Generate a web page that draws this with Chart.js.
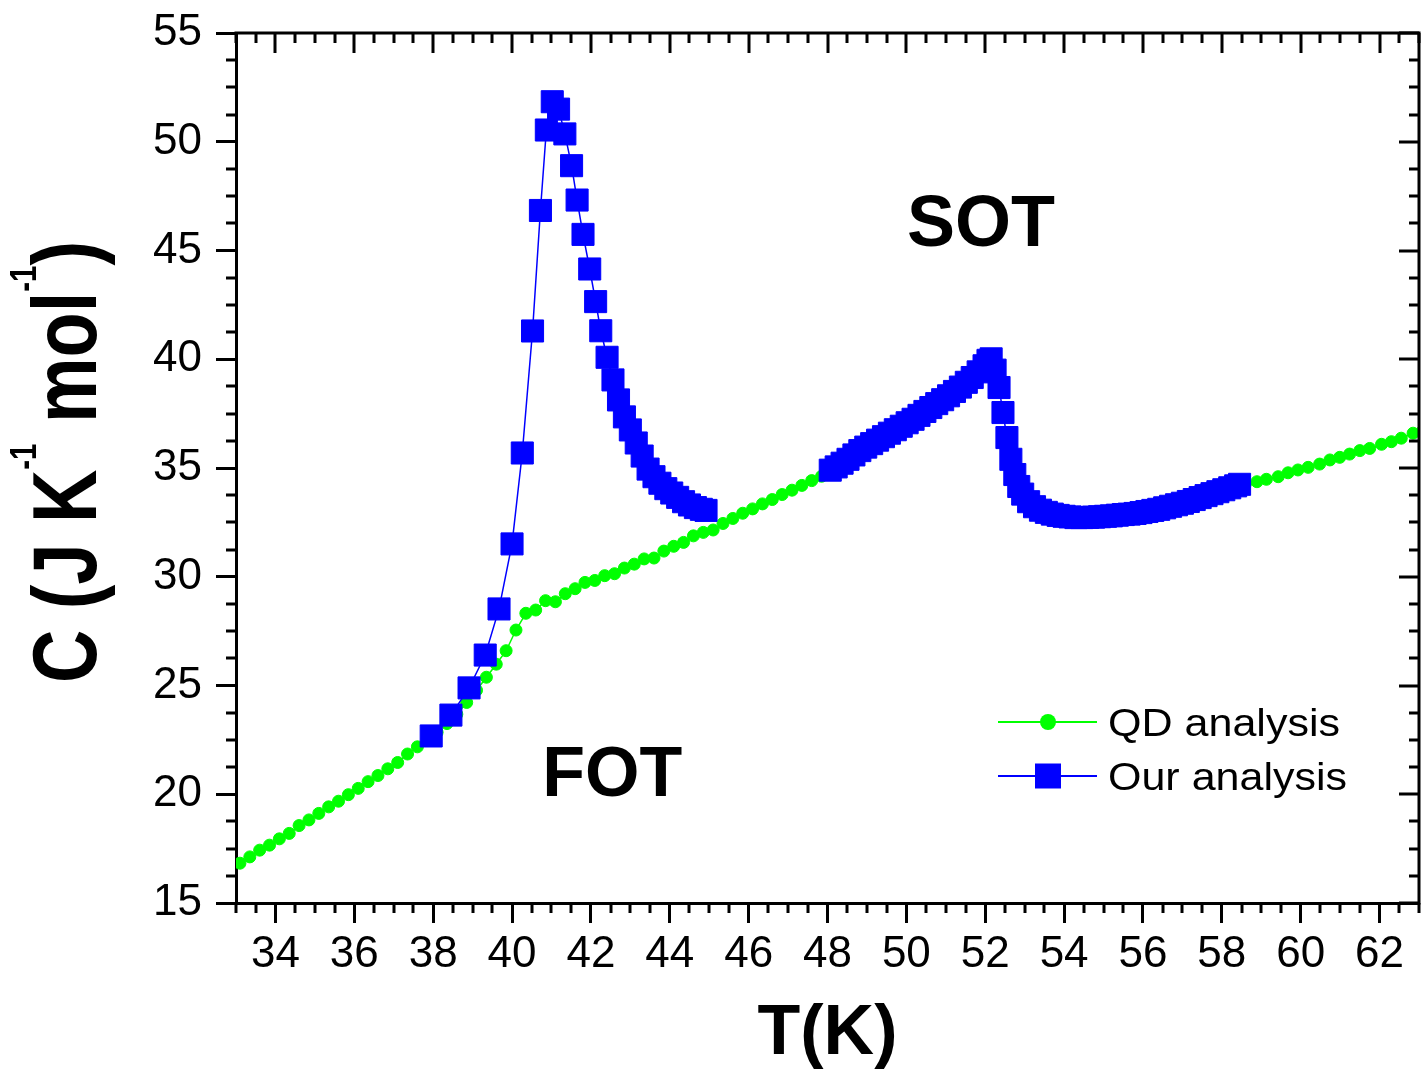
<!DOCTYPE html>
<html>
<head>
<meta charset="utf-8">
<script src="https://cdn.jsdelivr.net/npm/chart.js@4.4.1/dist/chart.umd.min.js"></script>
<style>
  html, body { margin: 0; padding: 0; background: #fff; }
  canvas { display: block; }
</style>
</head>
<body>
<canvas id="heatCapacity" width="1426" height="1081"></canvas>
<script>
// Axis tick labels
const tempTicks = [34, 36, 38, 40, 42, 44, 46, 48, 50, 52, 54, 56, 58, 60, 62];
const heatTicks = [15, 20, 25, 30, 35, 40, 45, 50, 55];

// QD analysis: T (K) and C (J K^-1 mol^-1); the null splits the two runs
const qdT = [
  33.10, 33.35, 33.60, 33.85, 34.10, 34.35, 34.60, 34.85, 35.10, 35.35,
  35.60, 35.85, 36.10, 36.35, 36.60, 36.85, 37.10, 37.35, 37.60, 37.85,
  38.10, 38.35, 38.60, 38.85, 39.10, 39.35, 39.60, 39.85, 40.10, 40.35,
  40.60, 40.85, 41.10, 41.35, 41.60, 41.85, 42.10, 42.35, 42.60, 42.85,
  43.10, 43.35, 43.60, 43.85, 44.10, 44.35, 44.60, 44.85, 45.10, 45.35,
  45.60, 45.85, 46.10, 46.35, 46.60, 46.85, 47.10, 47.35, 47.60, 47.85,
  48.05, 53.00,
  58.60, 58.89, 59.13, 59.43, 59.68, 59.93, 60.19, 60.48, 60.74, 60.99,
  61.24, 61.50, 61.75, 62.05, 62.30, 62.55, 62.85, 63.10,
];
const qdC = [
  16.83, 17.12, 17.43, 17.66, 17.95, 18.20, 18.56, 18.82, 19.12, 19.42,
  19.68, 19.98, 20.27, 20.58, 20.86, 21.17, 21.46, 21.85, 22.18, 22.55,
  22.85, 23.25, 23.68, 24.22, 24.78, 25.38, 25.98, 26.60, 27.55, 28.32,
  28.47, 28.90, 28.85, 29.22, 29.45, 29.74, 29.83, 30.05, 30.14, 30.40,
  30.58, 30.82, 30.86, 31.18, 31.40, 31.58, 31.88, 32.04, 32.15, 32.45,
  32.68, 32.92, 33.12, 33.35, 33.55, 33.78, 33.98, 34.20, 34.42, 34.62,
  34.82, null,
  34.28, 34.37, 34.48, 34.60, 34.78, 34.91, 35.03, 35.18, 35.37, 35.49,
  35.64, 35.80, 35.90, 36.09, 36.21, 36.37, 36.60, 36.72,
];

// Our analysis: FOT peak near 41 K, SOT peak near 52 K
const ourT = [
  37.95, 38.45, 38.91, 39.32, 39.67, 40.00, 40.26, 40.52, 40.72, 40.87,
  41.02, 41.18, 41.34, 41.51, 41.65, 41.80, 41.97, 42.12, 42.25, 42.41,
  42.56, 42.70, 42.85, 43.00, 43.15, 43.30, 43.45, 43.60, 43.75, 43.90,
  44.05, 44.20, 44.35, 44.50, 44.65, 44.80, 44.92,
  46.50,
  48.07, 48.22, 48.37, 48.52, 48.67, 48.82, 48.97, 49.12, 49.27, 49.42,
  49.57, 49.72, 49.87, 50.02, 50.17, 50.32, 50.47, 50.62, 50.77, 50.92,
  51.07, 51.22, 51.37, 51.52, 51.67, 51.82, 51.97, 52.07, 52.15, 52.25,
  52.35, 52.45, 52.55, 52.65, 52.75, 52.85, 52.95, 53.10, 53.25, 53.40,
  53.55, 53.70, 53.85, 54.00, 54.15, 54.30, 54.45, 54.60, 54.75, 54.90,
  55.05, 55.20, 55.35, 55.50, 55.65, 55.80, 55.95, 56.10, 56.25, 56.40,
  56.55, 56.70, 56.85, 57.00, 57.15, 57.30, 57.45, 57.60, 57.75, 57.90,
  58.05, 58.20, 58.35, 58.45,
];
const ourC = [
  22.68, 23.64, 24.89, 26.40, 28.52, 31.51, 35.69, 41.30, 46.84, 50.54,
  51.84, 51.50, 50.36, 48.90, 47.32, 45.74, 44.15, 42.65, 41.31, 40.09,
  39.05, 38.13, 37.35, 36.75, 36.15, 35.55, 34.95, 34.60, 34.30, 34.05,
  33.85, 33.65, 33.45, 33.30, 33.18, 33.10, 33.05,
  null,
  34.90, 35.05, 35.22, 35.40, 35.60, 35.80, 35.96, 36.12, 36.28, 36.44,
  36.60, 36.76, 36.92, 37.08, 37.24, 37.42, 37.60, 37.78, 37.96, 38.14,
  38.32, 38.52, 38.72, 38.94, 39.16, 39.42, 39.70, 39.95, 40.02, 39.50,
  38.70, 37.55, 36.40, 35.40, 34.70, 34.15, 33.80, 33.45, 33.22, 33.06,
  32.96, 32.88, 32.82, 32.78, 32.75, 32.72, 32.72, 32.73, 32.74, 32.76,
  32.78, 32.80, 32.83, 32.86, 32.88, 32.91, 32.95, 33.00, 33.05, 33.10,
  33.17, 33.24, 33.31, 33.38, 33.46, 33.55, 33.64, 33.73, 33.82, 33.91,
  34.00, 34.09, 34.18, 34.25,
];

// In-plot region labels, placed in data units
const regionLabels = [
  { text: "SOT", x: 51.89, y: 45.21, size: 72 },
  { text: "FOT", x: 42.54, y: 19.92, size: 70 },
];

const FONT = "'Liberation Sans', Arial, sans-serif";
const GREEN = "#00ff00";
const BLUE = "#0000ff";

function toPoints(xs, ys) {
  return xs.map((x, i) => ({ x, y: ys[i] }));
}

// Frame on all four sides; minor ticks outside on bottom/left, all ticks inside on top/right
const frameTicks = {
  id: "frameTicks",
  afterDraw(chart) {
    const { ctx, chartArea: a } = chart;
    const { x, y } = chart.scales;
    ctx.save();
    ctx.strokeStyle = "#000";
    ctx.lineWidth = 3;
    ctx.lineCap = "butt";
    ctx.beginPath();
    ctx.moveTo(a.left - 1.5, a.top);
    ctx.lineTo(a.right, a.top);
    ctx.lineTo(a.right, a.bottom + 1.5);
    ctx.stroke();

    ctx.beginPath();
    for (let v = 33; v <= 63.001; v += 0.5) {
      const px = Math.round(x.getPixelForValue(v));
      const major = tempTicks.includes(v);
      if (!major) {
        ctx.moveTo(px, a.bottom);
        ctx.lineTo(px, a.bottom + 10);
      }
      ctx.moveTo(px, a.top);
      ctx.lineTo(px, a.top + (major ? 20 : 10));
    }
    for (let v = 15; v <= 55.001; v += 1.25) {
      const py = Math.round(y.getPixelForValue(v));
      const major = heatTicks.includes(v);
      if (!major) {
        ctx.moveTo(a.left, py);
        ctx.lineTo(a.left - 10, py);
      }
      ctx.moveTo(a.right, py);
      ctx.lineTo(a.right - (major ? 20 : 10), py);
    }
    ctx.stroke();
    ctx.restore();
  },
};

function drawYTitle(ctx) {
  const parts = [
    { text: "C (J K", sup: false },
    { text: "-1", sup: true },
    { text: " mol", sup: false },
    { text: "-1", sup: true },
    { text: ")", sup: false },
  ];
  ctx.save();
  ctx.translate(96, 683);
  ctx.rotate(-Math.PI / 2);
  ctx.scale(0.82, 1);
  ctx.textAlign = "left";
  ctx.textBaseline = "alphabetic";
  let pos = 0;
  for (const p of parts) {
    ctx.font = p.sup ? `bold 36px ${FONT}` : `bold 90px ${FONT}`;
    ctx.fillText(p.text, pos, p.sup ? -60 : 0);
    pos += ctx.measureText(p.text).width;
  }
  ctx.restore();
}

function drawLegend(ctx) {
  const rows = [
    { label: "QD analysis", color: GREEN, marker: "circle", y: 722, width: 232 },
    { label: "Our analysis", color: BLUE, marker: "rect", y: 776, width: 239 },
  ];
  ctx.save();
  for (const r of rows) {
    ctx.strokeStyle = r.color;
    ctx.fillStyle = r.color;
    ctx.lineWidth = 2;
    ctx.beginPath();
    ctx.moveTo(998, r.y);
    ctx.lineTo(1097, r.y);
    ctx.stroke();
    ctx.beginPath();
    if (r.marker === "circle") {
      ctx.arc(1048, r.y, 8, 0, Math.PI * 2);
    } else {
      ctx.rect(1035, r.y - 12.5, 26, 25);
    }
    ctx.fill();

    ctx.fillStyle = "#000";
    ctx.font = `38px ${FONT}`;
    ctx.textBaseline = "alphabetic";
    ctx.textAlign = "left";
    const w = ctx.measureText(r.label).width;
    ctx.save();
    ctx.translate(1108, r.y + 14);
    ctx.scale(r.width / w, 1);
    ctx.fillText(r.label, 0, 0);
    ctx.restore();
  }
  ctx.restore();
}

const chartText = {
  id: "chartText",
  afterDraw(chart) {
    const { ctx, chartArea: a } = chart;
    const { x, y } = chart.scales;
    ctx.save();
    ctx.fillStyle = "#000";
    ctx.textAlign = "center";
    ctx.textBaseline = "alphabetic";
    ctx.font = `bold 70px ${FONT}`;
    ctx.fillText("T(K)", (a.left + a.right) / 2, 1054);

    for (const l of regionLabels) {
      ctx.font = `bold ${l.size}px ${FONT}`;
      ctx.fillText(l.text, x.getPixelForValue(l.x), y.getPixelForValue(l.y));
    }
    ctx.restore();
    drawYTitle(ctx);
    drawLegend(ctx);
  },
};

const axisCommon = {
  type: "linear",
  grid: {
    display: true,
    drawOnChartArea: false,
    drawTicks: true,
    tickLength: 20,
    tickWidth: 3,
    tickColor: "#000",
  },
  border: { display: true, color: "#000", width: 3 },
};

// keep the plot box fixed: no extra room reserved for edge labels
function clearPadding(scale) {
  scale.paddingLeft = 0;
  scale.paddingRight = 0;
  scale.paddingTop = 0;
  scale.paddingBottom = 0;
}

new Chart(document.getElementById("heatCapacity"), {
  type: "line",
  data: {
    datasets: [
      {
        label: "Our analysis",
        data: toPoints(ourT, ourC),
        borderColor: BLUE,
        backgroundColor: BLUE,
        borderWidth: 1.5,
        pointStyle: "rect",
        pointRadius: 15.6,
        pointBorderWidth: 1,
        order: 0,
      },
      {
        label: "QD analysis",
        data: toPoints(qdT, qdC),
        borderColor: GREEN,
        backgroundColor: GREEN,
        borderWidth: 1.5,
        pointStyle: "circle",
        pointRadius: 6,
        pointBorderWidth: 1,
        order: 1,
      },
    ],
  },
  options: {
    responsive: false,
    animation: false,
    devicePixelRatio: 1,
    layout: {
      autoPadding: false,
      padding: { top: 33, right: 7, left: 0, bottom: 0 },
    },
    plugins: {
      legend: { display: false },
      tooltip: { enabled: false },
    },
    scales: {
      x: {
        ...axisCommon,
        position: "bottom",
        min: 33,
        max: 63,
        afterBuildTicks: (scale) => {
          scale.ticks = tempTicks.map((value) => ({ value }));
        },
        afterFit: (scale) => {
          scale.height = 178;
          clearPadding(scale);
        },
        ticks: {
          autoSkip: false,
          maxRotation: 0,
          padding: 5,
          color: "#000",
          font: { family: FONT, size: 44 },
        },
      },
      y: {
        ...axisCommon,
        position: "left",
        min: 15,
        max: 55,
        afterBuildTicks: (scale) => {
          scale.ticks = heatTicks.map((value) => ({ value }));
        },
        afterFit: (scale) => {
          scale.width = 236;
          clearPadding(scale);
        },
        ticks: {
          padding: 14,
          color: "#000",
          font: { family: FONT, size: 44 },
        },
      },
    },
  },
  plugins: [frameTicks, chartText],
});
</script>
</body>
</html>
